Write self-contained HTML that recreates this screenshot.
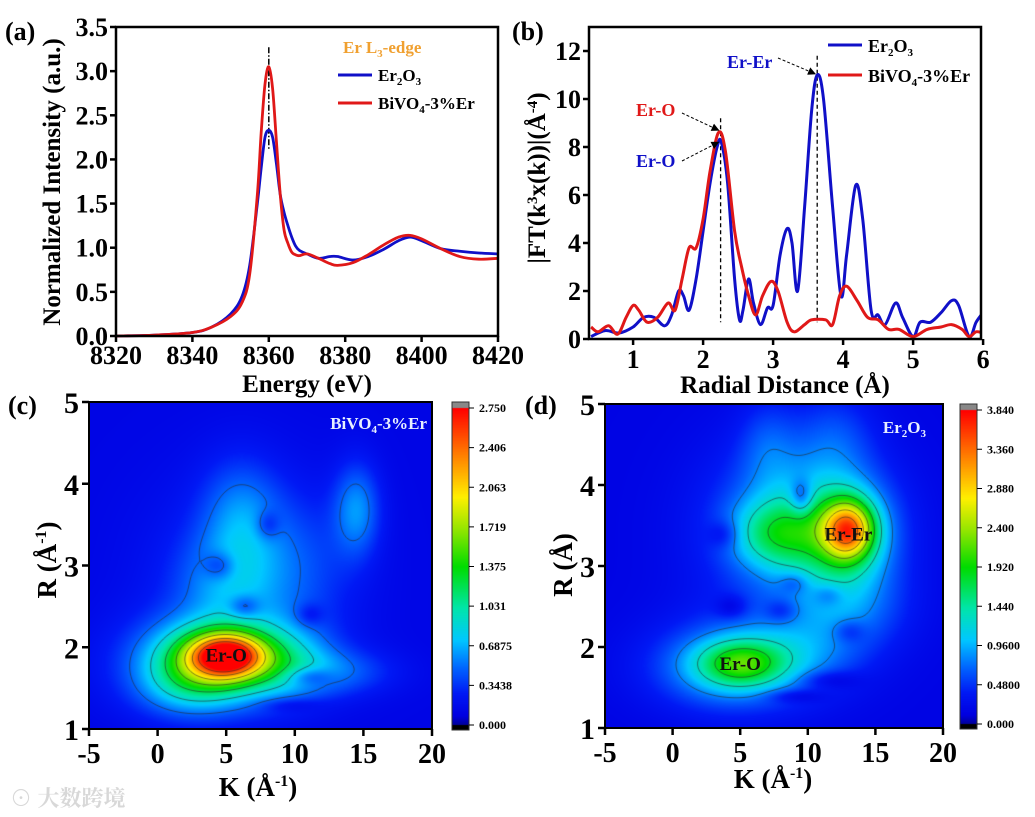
<!DOCTYPE html>
<html><head><meta charset="utf-8">
<style>
html,body{margin:0;padding:0;background:#fff;}
#wrap{position:relative;width:1035px;height:817px;overflow:hidden;font-family:"Liberation Serif",serif;}
canvas{position:absolute;}
svg{position:absolute;left:0;top:0;}
text{font-family:"Liberation Serif","Noto Serif CJK SC",serif;font-weight:bold;}
</style></head>
<body>
<div id="wrap">
<canvas id="hmC" width="343" height="327" style="left:89px;top:402px"></canvas>
<canvas id="cbC" width="17" height="328" style="left:452px;top:402px"></canvas>
<canvas id="hmD" width="338" height="324" style="left:605px;top:404px"></canvas>
<canvas id="cbD" width="17" height="325" style="left:960px;top:404px"></canvas>
<svg id="svg" width="1035" height="817"></svg>
</div>
<script>
// ---------- Panel (a) data ----------
const aEnergy = [8320,8330,8340,8345,8350,8353,8355,8357,8358,8359,8360,8361,8362,8363,8364,8365,8366,8367,8368,8370,8373,8376,8378,8382,8386,8390,8394,8397,8400,8405,8410,8415,8420];
const aEr2O3  = [0,0.01,0.04,0.1,0.25,0.45,0.8,1.5,1.9,2.25,2.33,2.25,1.95,1.6,1.4,1.25,1.12,1.02,0.97,0.93,0.88,0.9,0.9,0.86,0.9,0.98,1.08,1.12,1.08,0.99,0.96,0.94,0.93];
const aBiVO4  = [0,0.01,0.04,0.1,0.22,0.38,0.7,1.6,2.3,2.85,3.05,2.8,2.2,1.6,1.2,1.05,0.95,0.92,0.91,0.93,0.88,0.82,0.8,0.83,0.92,1.03,1.12,1.14,1.1,0.99,0.9,0.87,0.88];
const aXTicks = [8320,8340,8360,8380,8400,8420];
const aYTicks = ["0.0","0.5","1.0","1.5","2.0","2.5","3.0","3.5"];
// ---------- Panel (b) data ----------
const bRBlue = [0.4,0.6,0.8,1.0,1.15,1.3,1.45,1.55,1.65,1.72,1.8,1.9,2.0,2.1,2.2,2.26,2.35,2.45,2.52,2.57,2.65,2.72,2.82,2.92,3.0,3.1,3.2,3.27,3.35,3.45,3.55,3.63,3.72,3.85,3.97,4.05,4.18,4.28,4.4,4.5,4.6,4.75,4.85,5.0,5.1,5.25,5.4,5.55,5.65,5.8,5.9,6.0];
const bBlue  = [0.1,0.35,0.25,0.5,0.9,0.9,0.55,1.0,2.0,1.8,1.2,2.5,4.5,6.5,8.0,8.2,6.5,2.5,0.8,1.2,2.5,1.5,0.6,1.3,1.4,3.5,4.6,4.0,2.0,5.5,9.5,11.0,10.0,5.5,1.8,3.5,6.4,5.0,1.2,1.0,0.6,1.5,0.9,0.1,0.7,0.7,1.1,1.6,1.4,0.1,0.7,1.1];
const bRRed  = [0.4,0.5,0.65,0.78,0.9,1.0,1.08,1.2,1.35,1.5,1.6,1.7,1.8,1.9,2.0,2.1,2.22,2.32,2.45,2.55,2.65,2.75,2.85,2.97,3.07,3.2,3.3,3.45,3.55,3.75,3.85,3.95,4.05,4.2,4.35,4.5,4.65,4.8,5.0,5.2,5.4,5.55,5.7,5.8,5.9,6.0];
const bRed   = [0.5,0.3,0.55,0.2,0.9,1.4,1.2,0.7,0.9,1.5,1.2,2.5,3.8,3.8,5.0,7.0,8.6,7.8,4.5,3.0,1.8,1.0,1.8,2.4,2.0,0.7,0.3,0.6,0.8,0.8,0.6,1.8,2.2,1.6,0.9,0.8,0.4,0.4,0.1,0.4,0.5,0.6,0.4,0.1,0.3,0.25];
const bXTicks = [1,2,3,4,5,6];
const bYTicks = [0,2,4,6,8,10,12];
// ---------- Panel (c)/(d) data: wavelet peaks [k, R, amplitude, sigmaK, sigmaR] ----------
const cBase = 0.12;
const cPeaks = [[5,1.9,1.6,1.8,0.18],[4,1.85,1.1,3.0,0.3],[4,1.8,0.35,5,0.45],[9,1.85,0.45,2.5,0.3],[6,3.6,0.35,2,0.5],[6,2.9,0.2,5,0.9],[5,2.8,0.3,2.5,0.4],[14.5,3.7,0.45,1.2,0.4],[10,3,0.2,3,0.6],[13,1.7,0.3,3,0.2],[2,1.5,0.3,2.5,0.25],
 [4.5,3,-0.3,0.8,0.12],[6.3,2.5,-0.3,0.8,0.1],[8,3.5,-0.25,0.6,0.12],[11,1.65,-0.3,1.2,0.08],[9.5,1.3,-0.15,1.5,0.06],[11,2.4,-0.2,0.7,0.1]];
const cTicks = ["0.000","0.3438","0.6875","1.031","1.375","1.719","2.063","2.406","2.750"];
const cMax = 2.75;
const dBase = 0.15;
const dPeaks = [[13,3.45,2.0,1.3,0.25],[12.5,3.4,1.0,2.5,0.45],[7.5,3.4,0.9,2.2,0.3],[9.5,3.7,0.4,4,0.6],[9,3.3,0.4,5,0.9],[5,1.8,1.0,2.2,0.2],[4,1.75,0.6,3.5,0.33],[5,1.8,0.3,5,0.45],[9,1.9,0.35,3,0.3],[13,2.5,0.45,3,0.4],[7,4.5,0.3,1.5,0.4],[12,4.6,0.3,2,0.4],
 [9.5,3.85,-0.6,0.6,0.15],[3.8,3.4,-0.3,0.8,0.12],[9,2.8,-0.3,0.8,0.1],[4.3,2.5,-0.3,0.8,0.1],[8,2.45,-0.3,0.8,0.1],[11.5,2.65,-0.3,0.8,0.1],[13,2.2,-0.3,0.8,0.1],[11.5,1.6,-0.3,1.5,0.08],[9,1.4,-0.3,1.5,0.06]];
const dTicks = ["0.000","0.4800","0.9600","1.440","1.920","2.400","2.880","3.360","3.840"];
const dMax = 3.84;
const hmXTicks = [-5,0,5,10,15,20];
const hmYTicks = [1,2,3,4,5];

const NS="http://www.w3.org/2000/svg";
const svg=document.getElementById('svg');
function el(tag,attrs,parent){const e=document.createElementNS(NS,tag);for(const k in attrs)e.setAttribute(k,attrs[k]);(parent||svg).appendChild(e);return e;}
function txt(x,y,s,size,attrs,name){const t=el('text',Object.assign({x:x,y:y,'font-size':size},attrs||{}));t.innerHTML=s;


return t;}
function smoothPath(pts){let d='M'+pts[0][0]+','+pts[0][1];for(let i=0;i<pts.length-1;i++){const p0=pts[i-1]||pts[i],p1=pts[i],p2=pts[i+1],p3=pts[i+2]||p2;
const c1x=p1[0]+(p2[0]-p0[0])/6,c1y=p1[1]+(p2[1]-p0[1])/6,c2x=p2[0]-(p3[0]-p1[0])/6,c2y=p2[1]-(p3[1]-p1[1])/6;d+=` C${c1x},${c1y} ${c2x},${c2y} ${p2[0]},${p2[1]}`;}return d;}

// ===== Panel (a) =====
const aL=116,aR=498,aT=27,aB=336;
const ax=v=>aL+(v-8320)/100*(aR-aL), ay=v=>aB-v/3.5*(aB-aT);
function drawLine(xs,ys,fx,fy,color,name){const p=el('path',{d:smoothPath(xs.map((x,i)=>[fx(x),fy(ys[i])])),fill:'none',stroke:color,'stroke-width':2.8,'stroke-linejoin':'round'});

}
el('line',{x1:ax(8360),x2:ax(8360),y1:ay(3.27),y2:ay(2.1),stroke:'#000','stroke-width':1.5,'stroke-dasharray':'6,2,1.5,2'});
drawLine(aEnergy,aEr2O3,ax,ay,'#1010c8','series-er2o3-xanes');
drawLine(aEnergy,aBiVO4,ax,ay,'#e01818','series-bivo4-xanes');
el('rect',{x:aL,y:aT,width:aR-aL,height:aB-aT,fill:'none',stroke:'#000','stroke-width':2.5});
aXTicks.forEach(v=>{el('line',{x1:ax(v),x2:ax(v),y1:aB,y2:aB+6,stroke:'#000','stroke-width':2.5});txt(ax(v),aB+28,v,26,{'text-anchor':'middle'},'x-tick-label');});
aYTicks.forEach(s=>{const v=+s;el('line',{x1:aL-6,x2:aL,y1:ay(v),y2:ay(v),stroke:'#000','stroke-width':2.5});txt(aL-8,ay(v)+9,s,26,{'text-anchor':'end'},'y-tick-label');});
txt(307,392,'Energy (eV)',25,{'text-anchor':'middle'},'x-axis-title-a');
txt(0,0,'Normalized Intensity (a.u.)',25,{'text-anchor':'middle',transform:'translate(60,182) rotate(-90)'},'y-axis-title-a');
txt(5,40,'(a)',26,{},'panel-label-a');
txt(343,53,'Er L<tspan dy="4" font-size="11">3</tspan><tspan dy="-4">-edge</tspan>',17,{fill:'#f0a030'},'legend-title');
el('line',{x1:338,x2:372,y1:75,y2:75,stroke:'#1010c8','stroke-width':3});
txt(378,81,'Er<tspan dy="4" font-size="11">2</tspan><tspan dy="-4">O</tspan><tspan dy="4" font-size="11">3</tspan>',17,{},'legend-entry-er2o3');
el('line',{x1:338,x2:372,y1:103,y2:103,stroke:'#e01818','stroke-width':3});
txt(378,109,'BiVO<tspan dy="4" font-size="11">4</tspan><tspan dy="-4">-3%Er</tspan>',17,{},'legend-entry-bivo4');

// ===== Panel (b) =====
const bL=589,bRt=981,bT=27,bB=339;
const bx=v=>bL+(v-0.37)*70, by=v=>bB-v/13*(bB-bT);
el('line',{x1:bx(2.25),x2:bx(2.25),y1:by(9.2),y2:by(0.7),stroke:'#000','stroke-width':1.3,'stroke-dasharray':'4,3'});
el('line',{x1:bx(3.63),x2:bx(3.63),y1:by(11.8),y2:by(0.7),stroke:'#000','stroke-width':1.3,'stroke-dasharray':'4,3'});
const bClip=el('clipPath',{id:'bclip'});el('rect',{x:bL,y:bT,width:bRt-bL,height:bB-bT},bClip);
const gB=el('g',{'clip-path':'url(#bclip)'});
function drawLineG(g,xs,ys,fx,fy,color,name){const p=el('path',{d:smoothPath(xs.map((x,i)=>[fx(x),fy(ys[i])])),fill:'none',stroke:color,'stroke-width':3,'stroke-linejoin':'round'},g);

}
drawLineG(gB,bRBlue,bBlue,bx,by,'#1010c8','series-er2o3-ft');
drawLineG(gB,bRRed,bRed,bx,by,'#e01818','series-bivo4-ft');
el('rect',{x:bL,y:bT,width:bRt-bL,height:bB-bT,fill:'none',stroke:'#000','stroke-width':2.5});
bXTicks.forEach(v=>{el('line',{x1:bx(v),x2:bx(v),y1:bB,y2:bB+6,stroke:'#000','stroke-width':2.5});txt(bx(v),bB+29,v,26,{'text-anchor':'middle'},'x-tick-label');});
bYTicks.forEach(v=>{el('line',{x1:bL-6,x2:bL,y1:by(v),y2:by(v),stroke:'#000','stroke-width':2.5});txt(bL-8,by(v)+9,v,26,{'text-anchor':'end'},'y-tick-label');});
txt(785,393,'Radial Distance (Å)',25,{'text-anchor':'middle'},'x-axis-title-b');
txt(0,0,'|FT(k<tspan dy="-8" font-size="15">3</tspan><tspan dy="8">x(k))|(Å</tspan><tspan dy="-8" font-size="15">-4</tspan><tspan dy="8">)</tspan>',25,{'text-anchor':'middle',transform:'translate(545,178) rotate(-90)'},'y-axis-title-b');
txt(512,40,'(b)',26,{},'panel-label-b');
el('defs',{}).innerHTML='<marker id="arr" markerWidth="8" markerHeight="8" refX="7" refY="4" orient="auto"><path d="M0,0 L8,4 L0,8 z" fill="#000"/></marker>';
txt(636,116,'Er-O',18,{fill:'#e01818'},'annotation-er-o-bivo4');
el('path',{d:`M682,113 L${bx(2.25)-2},${by(8.7)}`,stroke:'#000','stroke-width':1,'stroke-dasharray':'3,2',fill:'none','marker-end':'url(#arr)'});
txt(636,167,'Er-O',18,{fill:'#1010c8'},'annotation-er-o-er2o3');
el('path',{d:`M682,161 L${bx(2.22)},${by(8.2)}`,stroke:'#000','stroke-width':1,'stroke-dasharray':'3,2',fill:'none','marker-end':'url(#arr)'});
txt(727,68,'Er-Er',18,{fill:'#1010c8'},'annotation-er-er');
el('path',{d:`M778,58 L${bx(3.6)},${by(11.05)}`,stroke:'#000','stroke-width':1,'stroke-dasharray':'3,2',fill:'none','marker-end':'url(#arr)'});
el('line',{x1:828,x2:862,y1:45,y2:45,stroke:'#1010c8','stroke-width':3});
txt(868,52,'Er<tspan dy="4" font-size="11">2</tspan><tspan dy="-4">O</tspan><tspan dy="4" font-size="11">3</tspan>',18,{},'legend-entry-er2o3-b');
el('line',{x1:828,x2:862,y1:75,y2:75,stroke:'#e01818','stroke-width':3});
txt(868,82,'BiVO<tspan dy="4" font-size="11">4</tspan><tspan dy="-4">-3%Er</tspan>',18,{},'legend-entry-bivo4-b');

// ===== Heatmaps =====
const stops=[[0,0,0,150],[0.03,0,0,225],[0.1,0,25,245],[0.18,0,100,255],[0.27,0,200,255],[0.37,0,230,170],[0.5,0,220,0],[0.62,150,230,0],[0.72,255,240,0],[0.85,255,130,0],[1,255,0,0]];
function cmap(t){t=Math.max(0,Math.min(1,t));for(let i=1;i<stops.length;i++){if(t<=stops[i][0]){const a=stops[i-1],b=stops[i],f=(t-a[0])/(b[0]-a[0]);return [a[1]+f*(b[1]-a[1]),a[2]+f*(b[2]-a[2]),a[3]+f*(b[3]-a[3])];}}return [255,0,0];}
function field(peaks,base,k,r){let v=base;for(const p of peaks){v+=p[2]*Math.exp(-0.5*((k-p[0])/p[3])**2-0.5*((r-p[1])/p[4])**2);}return Math.max(0.03,v);}
function heat(id,peaks,base,max,levels){const cv=document.getElementById(id),ctx=cv.getContext('2d'),W=cv.width,H=cv.height;const im=ctx.createImageData(W,H);
const F=[];for(let y=0;y<=H;y++){F[y]=[];for(let x=0;x<=W;x++){F[y][x]=field(peaks,base,-5+25*x/W,5-4*y/H);}}
for(let y=0;y<H;y++)for(let x=0;x<W;x++){const c=cmap(F[y][x]/max),i=(y*W+x)*4;im.data[i]=c[0];im.data[i+1]=c[1];im.data[i+2]=c[2];im.data[i+3]=255;}
ctx.putImageData(im,0,0);
ctx.strokeStyle='rgba(40,40,40,0.75)';ctx.lineWidth=0.8;const s=3;
for(const L of levels){ctx.beginPath();for(let y=0;y+s<=H;y+=s)for(let x=0;x+s<=W;x+=s){const a=F[y][x],b=F[y][x+s],c=F[y+s][x+s],d=F[y+s][x];const pts=[];
const e=(v1,v2,x1,y1,x2,y2)=>{if((v1<L)!==(v2<L)){const f=(L-v1)/(v2-v1);pts.push([x1+f*(x2-x1),y1+f*(y2-y1)]);}};
e(a,b,x,y,x+s,y);e(b,c,x+s,y,x+s,y+s);e(c,d,x+s,y+s,x,y+s);e(d,a,x,y+s,x,y);
for(let i=0;i+1<pts.length;i+=2){ctx.moveTo(pts[i][0],pts[i][1]);ctx.lineTo(pts[i+1][0],pts[i+1][1]);}}ctx.stroke();}}
function cbar(id){const cv=document.getElementById(id),ctx=cv.getContext('2d'),W=cv.width,H=cv.height;const top=6,bot=5;
ctx.fillStyle='#888';ctx.fillRect(0,0,W,top);ctx.fillStyle='#000';ctx.fillRect(0,H-bot,W,bot);
for(let y=top;y<H-bot;y++){const c=cmap(1-(y-top)/(H-bot-top));ctx.fillStyle=`rgb(${c[0]|0},${c[1]|0},${c[2]|0})`;ctx.fillRect(0,y,W,1);}}
heat('hmC',cPeaks,cBase,cMax,[0.5,0.85,1.2,1.55,1.9,2.25,2.55]);
heat('hmD',dPeaks,dBase,dMax,[0.8,1.3,1.8,2.3,2.8,3.3]);
cbar('cbC');cbar('cbD');

function hmAxes(L,R,T,B,cbx,cbT,cbB,ticks,lab,panel,lx,ly){
 const hx=v=>L+(v+5)/25*(R-L), hy=v=>B-(v-1)/4*(B-T);
 el('rect',{x:L,y:T,width:R-L,height:B-T,fill:'none',stroke:'#000','stroke-width':2});
 hmXTicks.forEach(v=>{el('line',{x1:hx(v),x2:hx(v),y1:B,y2:B+7,stroke:'#000','stroke-width':2.5});txt(hx(v),B+34,v,28,{'text-anchor':'middle'},'x-tick-label');});
 hmYTicks.forEach(v=>{el('line',{x1:L-7,x2:L,y1:hy(v),y2:hy(v),stroke:'#000','stroke-width':2.5});txt(L-10,hy(v)+11,v,30,{'text-anchor':'end'},'y-tick-label');});
 el('rect',{x:cbx,y:cbT,width:17,height:cbB-cbT,fill:'none',stroke:'#333','stroke-width':1});
 ticks.forEach((s,i)=>{const y=cbB-5-(cbB-cbT-11)*i/(ticks.length-1);el('line',{x1:cbx+17,x2:cbx+22,y1:y,y2:y,stroke:'#000','stroke-width':1});txt(cbx+27,y+4,s,12,{},'colorbar-tick-label');});
 txt(lx,ly,panel,26,{},'panel-label');
 return [hx,hy];}
let [cx,cy]=hmAxes(89,432,402,729,452,402,730,cTicks,'','(c)',8,414);
txt(cx(5),cy(1.9)+6,'Er-O',19,{'text-anchor':'middle',fill:'#111'},'label-er-o-c');
txt(427,429,'BiVO<tspan dy="4" font-size="11">4</tspan><tspan dy="-4">-3%Er</tspan>',17,{'text-anchor':'end',fill:'#e8f0ff'},'panel-title-c');
txt(258,796,'K (Å<tspan dy="-10" font-size="16">-1</tspan><tspan dy="10">)</tspan>',27,{'text-anchor':'middle'},'x-axis-title-c');
txt(0,0,'R (Å<tspan dy="-10" font-size="16">-1</tspan><tspan dy="10">)</tspan>',27,{'text-anchor':'middle',transform:'translate(56,560) rotate(-90)'},'y-axis-title-c');
let [dx,dy]=hmAxes(605,943,404,728,960,404,729,dTicks,'','(d)',525,414);
txt(dx(5),dy(1.8)+7,'Er-O',19,{'text-anchor':'middle',fill:'#111'},'label-er-o-d');
txt(dx(13),dy(3.4)+7,'Er-Er',19,{'text-anchor':'middle',fill:'#111'},'label-er-er-d');
txt(926,433,'Er<tspan dy="4" font-size="11">2</tspan><tspan dy="-4">O</tspan><tspan dy="4" font-size="11">3</tspan>',17,{'text-anchor':'end',fill:'#e8f0ff'},'panel-title-d');
txt(773,788,'K (Å<tspan dy="-10" font-size="16">-1</tspan><tspan dy="10">)</tspan>',27,{'text-anchor':'middle'},'x-axis-title-d');
txt(0,0,'R (Å)',27,{'text-anchor':'middle',transform:'translate(572,565) rotate(-90)'},'y-axis-title-d');
txt(10,806,'\u2299 大数跨境',22,{fill:'#d8d8d8','font-family':'"Liberation Sans","Noto Sans CJK SC",sans-serif'},'watermark');
</script>
</body></html>
